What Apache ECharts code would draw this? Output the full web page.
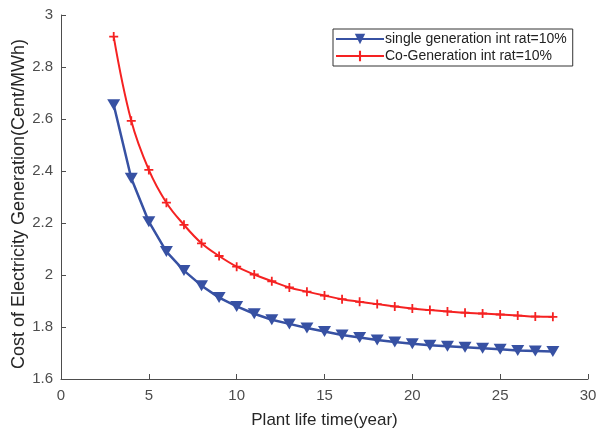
<!DOCTYPE html>
<html>
<head>
    <meta charset="utf-8">
    <script src="https://cdn.jsdelivr.net/npm/echarts@6/dist/echarts.min.js"></script>
    <title>Cost of Electricity Generation</title>
</head>
<style>
    html, body {
        margin: 0;
        padding: 0;
        background: #fff;
    }
    #chart {
        width: 598px;
        height: 432px;
    }
</style>
<body>
<div id="chart"></div>
<script type="text/javascript">
    // plant life time, years
    var years = [3, 4, 5, 6, 7, 8, 9, 10, 11, 12, 13, 14, 15, 16, 17, 18, 19, 20, 21, 22, 23, 24, 25, 26, 27, 28];
    var singleGen = [2.655, 2.372, 2.205, 2.090, 2.017, 1.959, 1.913, 1.879, 1.851, 1.828, 1.812, 1.796, 1.783,
        1.769, 1.760, 1.750, 1.742, 1.736, 1.730, 1.726, 1.722, 1.718, 1.714, 1.710, 1.708, 1.706];
    var coGen = [2.917, 2.593, 2.404, 2.278, 2.193, 2.122, 2.073, 2.032, 2.002, 1.976, 1.952, 1.936, 1.921,
        1.907, 1.897, 1.888, 1.879, 1.871, 1.865, 1.860, 1.855, 1.852, 1.848, 1.844, 1.840, 1.839];
    var names = ['single generation int rat=10%', 'Co-Generation int rat=10%'];

    function pairs(ys) {
        return years.map(function (x, i) { return [x, ys[i]]; });
    }

    var plusPath = 'path://M4,0h2v4h4v2h-4v4h-2v-4h-4v-2h4z';
    var axisColor = '#4d4d4d';
    var font = 'Liberation Sans, Arial, sans-serif';

    var myChart = echarts.init(document.getElementById('chart'));
    var option = {
        animation: false,
        grid: {left: 61, right: 10, top: 15, bottom: 53, outerBoundsMode: 'none', containLabel: false},
        legend: {
            orient: 'vertical',
            left: 333,
            top: 29,
            padding: [3, 6, 3, 2],
            itemGap: 3,
            itemWidth: 48,
            itemHeight: 13,
            borderColor: '#333',
            borderWidth: 1,
            backgroundColor: '#fff',
            textStyle: {fontFamily: font, fontSize: 14, color: '#222', padding: [0, 0, 0, -4]},
            data: names
        },
        xAxis: {
            type: 'value',
            min: 0, max: 30, interval: 5,
            name: 'Plant life time(year)',
            nameLocation: 'middle',
            nameGap: 33,
            nameTextStyle: {fontFamily: font, fontSize: 17, color: '#262626'},
            axisLine: {lineStyle: {color: axisColor, width: 1}},
            axisTick: {inside: true, length: 5, lineStyle: {color: axisColor}},
            axisLabel: {fontFamily: font, fontSize: 15, color: axisColor, margin: 9},
            splitLine: {show: false}
        },
        yAxis: {
            type: 'value',
            min: 1.6, max: 3, interval: 0.2,
            name: 'Cost of Electricity Generation(Cent/MWh)',
            nameLocation: 'middle',
            nameGap: 33,
            nameMoveOverlap: false,
            nameTextStyle: {fontFamily: font, fontSize: 18, color: '#262626', padding: [0, 14, 0, 0]},
            axisLine: {show: true, lineStyle: {color: axisColor, width: 1}},
            axisTick: {show: true, inside: true, length: 5, lineStyle: {color: axisColor}},
            axisLabel: {fontFamily: font, fontSize: 15, color: axisColor, margin: 8,
                formatter: function (v) { return +v.toFixed(1) + ''; }},
            splitLine: {show: false}
        },
        series: [
            {
                name: names[0],
                type: 'line',
                data: pairs(singleGen),
                symbol: 'triangle',
                symbolRotate: 180,
                symbolSize: [13, 11],
                lineStyle: {color: '#3751a3', width: 2.5},
                itemStyle: {color: '#3751a3'}
            },
            {
                name: names[1],
                type: 'line',
                data: pairs(coGen),
                smooth: 0.4,
                symbol: plusPath,
                symbolSize: 9,
                lineStyle: {color: '#f52222', width: 2},
                itemStyle: {color: '#f52222'}
            }
        ]
    };
    myChart.setOption(option);
</script>
</body>
</html>
